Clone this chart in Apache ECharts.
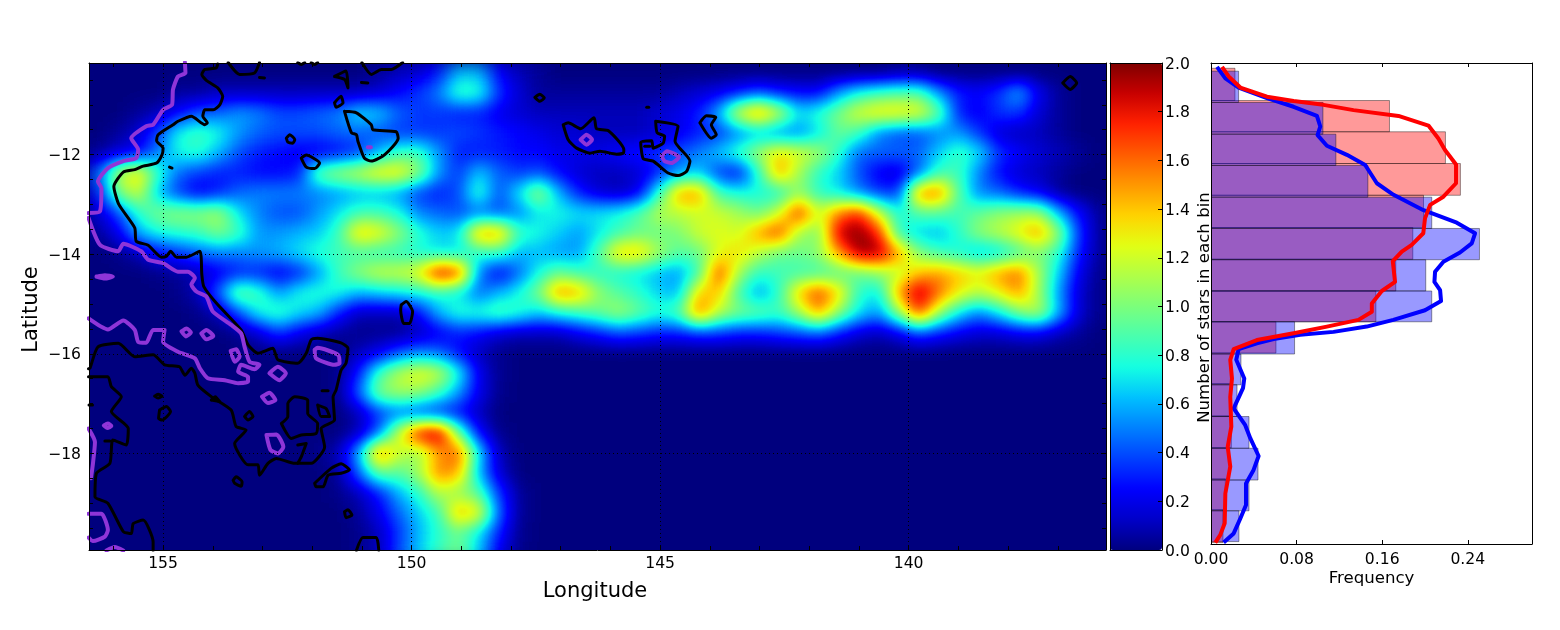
<!DOCTYPE html>
<html>
<head>
<meta charset="utf-8">
<title>Stars map</title>
<script src="https://cdn.jsdelivr.net/npm/echarts@6/dist/echarts.min.js"></script>
<style>
    html, body { margin: 0; padding: 0; background: #fff; }
    #page { position: relative; width: 1560px; height: 630px; overflow: hidden; }
    /* the heat cells sit in their own clipped layer, the filter smooths them and then colours them */
    #heatClip { position: absolute; left: 89px; top: 63px; width: 1017px; height: 487px; overflow: hidden; background: #00007f; }
    #heat { position: absolute; left: 0; top: 0; width: 1020px; height: 500px; filter: url(#jetBlur); }
    #main { position: absolute; left: 0; top: 0; width: 1560px; height: 630px; }
</style>
</head>
<body>
<svg width="0" height="0" style="position:absolute">
    <filter id="jetBlur" x="-5%" y="-5%" width="110%" height="110%" color-interpolation-filters="sRGB">
        <feGaussianBlur stdDeviation="9"></feGaussianBlur>
        <feComponentTransfer>
            <feFuncR id="jetR" type="table"></feFuncR>
            <feFuncG id="jetG" type="table"></feFuncG>
            <feFuncB id="jetB" type="table"></feFuncB>
        </feComponentTransfer>
    </filter>
</svg>
<div id="page">
    <div id="heatClip"><div id="heat"></div></div>
    <div id="main"></div>
</div>
<script>
// stars per bin: 25 rows (north to south), 51 columns (east edge of the plot is the right)
const heatValues = [
    [0,0,0,0,0,0,0,0,0,0, 0,0,0,0,.05,.1,.15,.3,.6,.6, .25,.1,.05,0,0,0,0,0,0,0, 0,0,0,0,0,0,0,0,0,0, .05,.05,0,0,0,0,0,0,0,0,0],
    [0,0,0,0,.05,.05,.1,.1,.1,.1, .1,.1,.1,.1,.15,.25,.35,.5,.85,.8, .35,.15,.05,.05,.05,.05,.05,.05,.05,.1, .15,.2,.3,.4,.3,.25,.25,.55,.75,.85, .9,.9,.55,.3,.25,.35,.6,.2,.05,0,0],
    [0,0,.05,.1,.25,.4,.45,.55,.5,.4, .4,.45,.5,.7,.65,.45,.35,.35,.3,.3, .2,.15,.1,.1,.1,.1,.1,.1,.15,.2, .3,.6,1.25,1.55,1.2,.7,.8,1,1.25,1.35, 1.35,1.3,.95,.3,.2,.35,.35,.15,.05,0,0],
    [0,.05,.15,.4,.75,.85,.75,.55,.45,.4, .4,.4,.45,.45,.4,.35,.35,.35,.4,.35, .3,.25,.2,.15,.15,.1,.1,.1,.15,.2, .3,.35,.5,.6,.5,.5,.7,.95,.85,.5, .4,.4,.5,.55,.35,.15,.1,.1,.05,0,0],
    [.05,.15,.25,.5,.75,.8,.6,.4,.3,.25, .2,.2,.25,.35,.6,.85,.85,.55,.3,.3, .3,.25,.25,.2,.2,.2,.25,.3,.35,.4, .5,.65,.85,1.1,1.35,1.25,1.1,.8,.45,.45, .45,.45,.65,.85,.7,.35,.25,.15,.1,.05,0],
    [.45,1.15,1.35,.8,.45,.35,.3,.3,.25,.25, .3,.95,1.1,1.2,1.35,1.35,1.05,.55,.35,.65, .45,.35,.4,.25,.15,.1,.1,.15,.3,.55, .65,.35,.25,.8,1.5,1.1,.8,.65,.4,.2, .15,.45,.85,.85,.5,.25,.15,.1,.05,0,0],
    [.3,1,1.2,.6,.35,.2,.3,.45,.5,.5, .5,.5,.55,.6,.6,.55,.35,.3,.4,.85, .4,.7,1.1,.6,.3,.15,.1,.2,.8,1.5, 1.5,.85,.75,.75,.75,1.05,.8,.7,.5,.35, .35,1.55,1.6,.9,.5,.45,.3,.2,.05,0,0],
    [.15,.4,.8,1,1.05,1.05,1.1,.7,.5,.4, .4,.55,.7,.85,.85,.75,.5,.45,.4,.45, .4,.5,.7,.75,.7,.7,.75,.9,1.15,1.15, 1.2,1.2,1.1,.95,1.2,1.75,1.2,1.55,1.75,1.2, .75,.9,.9,.85,.95,1.05,1.1,1.1,.6,.25,.05],
    [.05,.2,.6,.75,.8,.85,1,.85,.55,.55, .6,.65,.85,1.4,1.3,1.05,.8,.65,.7,1.5, 1.5,.85,.75,.65,.55,.7,.85,.95,.95,1, 1.2,1.25,1.2,1.5,1.7,1.1,1,1.9,2,1.75, .8,.65,.6,.8,1.05,1.15,1.3,1.5,1.05,.35,.05],
    [0,.02,.1,.25,.35,.45,.5,.5,.55,.6, .7,.8,.85,.85,.8,.8,.75,.7,.7,.8, .85,.6,.6,.55,.55,.9,1.4,1.4,1.1,.9, .95,1.25,1.35,1.15,.95,.95,1.05,1.5,1.95,1.95, 1.5,1,.85,.75,.6,.65,.85,1,.8,.3,.05],
    [0,0,0,.02,.05,.1,.2,.3,.3,.2, .3,.55,.85,1.05,1.2,1.2,1.3,1.85,1.7,.5, .2,.45,.75,.95,.85,.8,.75,.7,.6,.55, .85,1.7,1.1,.8,.85,.85,.85,.9,.95,1.05, 1.15,1.4,1.5,1.4,1.3,1.5,1.6,1.1,.65,.2,.02],
    [0,0,0,0,.02,.1,.45,1,.85,.55, .75,.8,.75,.6,.65,.7,.75,.8,.7,.45, .6,.75,1,1.55,1.45,1.05,.9,.8,.65,.6, 1.4,1.4,.85,.55,.8,1.4,1.7,1.35,.8,.7, 1.5,1.95,1.6,1.3,1.15,1.3,1.5,1.1,.55,.15,.02],
    [0,0,0,0,0,.02,.1,.4,.75,.85, .7,.6,.3,.1,.1,.1,.25,.6,.8,.8, .9,.8,.65,.75,.85,.95,1.1,.95,.8,.9, 1.6,1.15,1,.95,.85,1.1,1.5,1.05,.7,.55, 1.05,1.7,1.1,.7,.5,.7,1,1.15,.6,.15,.02],
    [0,0,0,0,0,0,0,.03,.15,.35, .2,.1,.05,.02,.02,.02,.1,.2,.3,.25, .15,.1,.1,.1,.2,.3,.4,.35,.3,.3, .35,.35,.3,.3,.35,.4,.45,.3,.15,.1, .2,.4,.3,.2,.15,.15,.2,.2,.1,.05,0],
    [0,0,0,0,0,0,0,0,0,0, 0,0,0,.1,.2,.4,.5,.45,.25,.1, .02,0,0,0,0,0,0,0,0,0, 0,0,0,0,0,0,0,0,0,0, 0,0,0,0,0,0,0,0,0,0,0],
    [0,0,0,0,0,0,0,0,0,0, 0,0,.02,.3,.85,1.15,1.3,1.2,.75,.2, .03,0,0,0,0,0,0,0,0,0, 0,0,0,0,0,0,0,0,0,0, 0,0,0,0,0,0,0,0,0,0,0],
    [0,0,0,0,0,0,0,0,0,0, 0,0,.02,.45,1,1.1,1.05,.85,.55,.2, .02,0,0,0,0,0,0,0,0,0, 0,0,0,0,0,0,0,0,0,0, 0,0,0,0,0,0,0,0,0,0,0],
    [0,0,0,0,0,0,0,0,0,0, 0,0,0,.1,.35,.45,.35,.3,.25,.1, 0,0,0,0,0,0,0,0,0,0, 0,0,0,0,0,0,0,0,0,0, 0,0,0,0,0,0,0,0,0,0,0],
    [0,0,0,0,0,0,0,0,0,0, 0,0,0,.1,.45,1.2,1.85,1.95,.95,.25, .02,0,0,0,0,0,0,0,0,0, 0,0,0,0,0,0,0,0,0,0, 0,0,0,0,0,0,0,0,0,0,0],
    [0,0,0,0,0,0,0,0,0,0, 0,.02,.1,.6,1.6,1.2,1.05,1.5,1.65,.7, .1,0,0,0,0,0,0,0,0,0, 0,0,0,0,0,0,0,0,0,0, 0,0,0,0,0,0,0,0,0,0,0],
    [0,0,0,0,0,0,0,0,0,0, 0,0,.05,.45,.95,.9,1.1,1.55,1.45,.6, .15,0,0,0,0,0,0,0,0,0, 0,0,0,0,0,0,0,0,0,0, 0,0,0,0,0,0,0,0,0,0,0],
    [0,0,0,0,0,0,0,0,0,0, 0,0,.02,.1,.3,.6,.8,1.15,1.05,.9, .35,.05,0,0,0,0,0,0,0,0, 0,0,0,0,0,0,0,0,0,0, 0,0,0,0,0,0,0,0,0,0,0],
    [0,0,0,0,0,0,0,0,0,0, 0,0,0,.05,.2,.45,.65,.85,1.45,1.3, .45,.05,0,0,0,0,0,0,0,0, 0,0,0,0,0,0,0,0,0,0, 0,0,0,0,0,0,0,0,0,0,0],
    [0,0,0,0,0,0,0,0,0,0, 0,0,0,.02,.1,.35,.6,.8,.95,.7, .3,.03,0,0,0,0,0,0,0,0, 0,0,0,0,0,0,0,0,0,0, 0,0,0,0,0,0,0,0,0,0,0],
    [0,0,0,0,0,0,0,0,0,0, 0,0,0,.02,.1,.4,.65,.85,1,.65, .2,.02,0,0,0,0,0,0,0,0, 0,0,0,0,0,0,0,0,0,0, 0,0,0,0,0,0,0,0,0,0,0]
];

// contours, [longitude, latitude]
const blackOpen = [
    [[153.9,-10.18],[153.93,-10.26],[154.16,-10.29],[154.22,-10.39],[154.13,-10.51],[153.9,-10.66],[153.8,-10.83],[153.86,-11],[153.99,-11.1],[154.16,-11.1],[154.2,-11.23],[154.11,-11.36],[154.16,-11.4],[154.43,-11.23],[154.7,-11.33],[154.8,-11.4],[155.1,-11.6],[155.13,-11.72],[155,-11.87],[155.02,-12],[155.13,-12.17],[155.4,-12.23],[155.57,-12.3],[155.8,-12.35],[155.99,-12.64],[155.89,-13],[155.57,-13.47],[155.54,-13.74],[155.3,-13.82],[155.03,-14.06],[154.93,-14.04],[154.85,-13.94],[154.73,-14.06],[154.53,-14.06],[154.26,-13.94],[154.22,-14.41],[154.18,-14.65],[153.93,-14.98],[153.43,-15.52],[153.29,-15.82],[153.09,-15.99],[152.79,-15.89],[152.69,-16.12],[152.29,-16.19],[152.12,-15.99],[152.02,-15.72],[151.89,-15.69],[151.42,-15.78],[151.28,-15.89],[151.32,-16.19],[151.42,-16.33],[151.52,-16.73],[151.58,-16.86],[151.55,-17.33],[151.82,-17.5],[151.75,-17.87],[152.02,-18.2],[152.35,-18.2],[152.72,-18.1],[152.89,-18.2],[153.06,-18.44],[153.09,-18.23],[153.29,-18.23],[153.56,-17.8],[153.33,-17.53],[153.53,-17.46],[153.63,-17.13],[154.03,-16.86],[154.3,-16.63],[154.36,-16.39],[154.43,-16.29],[154.56,-16.43],[154.67,-16.26],[154.97,-16.22],[155.2,-16.02],[155.57,-16.06],[155.9,-15.79],[156.31,-15.86],[156.47,-16.29],[156.5,-16.3]],
    [[156.5,-16.46],[156.11,-16.46],[156.04,-16.66],[155.84,-16.86],[156.04,-17.16],[155.7,-17.5],[155.74,-17.83],[156.01,-17.73],[156.07,-18.2],[156.34,-18.4],[156.37,-18.87],[156.11,-19],[155.8,-19.57],[155.64,-19.61],[155.6,-19.41],[155.4,-19.34],[155.2,-19.78],[155.2,-19.95]],
    [[152.29,-17.83],[152.12,-17.8],[152.22,-18.07],[152.29,-18.2]],
    [[153.69,-10.15],[153.46,-10.39],[153.16,-10.36],[153.06,-10.15]],
    [[152.29,-10.15],[152.22,-10.19],[152.15,-10.15]],
    [[152.02,-10.15],[151.95,-10.19],[151.89,-10.15]],
    [[151,-10.15],[150.81,-10.39],[150.61,-10.29],[150.41,-10.29],[150.18,-10.15]],
    [[151.11,-19.95],[150.98,-19.69],[150.71,-19.69],[150.66,-19.95]],
    [[153.06,-10.45],[152.96,-10.46]],
    [[151.01,-10.55],[150.88,-10.56]],
    [[154.87,-12.25],[154.82,-12.27]],
    [[151.8,-16.74],[151.68,-16.74]],
    [[156.17,-17.75],[156.07,-17.75]],
    [[156.49,-17.03],[156.42,-17.03]],
    [[145.27,-11.05],[145.23,-11.05]],
    [[145.31,-11.83],[145.21,-11.83]]
];
const blackLoops = [
    [[152.62,-17.4],[152.49,-17.26],[152.49,-17],[152.35,-16.86],[152.09,-16.93],[152.09,-17.2],[151.89,-17.4],[151.92,-17.6],[152.22,-17.63],[152.42,-17.7]],
    [[151.89,-17.03],[151.72,-17.1],[151.65,-17.26],[151.82,-17.26]],
    [[153.36,-17.26],[153.26,-17.16],[153.19,-17.26],[153.29,-17.33]],
    [[154.03,-16.93],[153.95,-16.86],[153.86,-16.96]],
    [[155.07,-17.13],[154.93,-17.06],[154.85,-17.16],[155.02,-17.33],[155.09,-17.3]],
    [[155.17,-16.85],[155.1,-16.81],[155.02,-16.85],[155.1,-16.89]],
    [[153.59,-18.54],[153.53,-18.47],[153.41,-18.57],[153.43,-18.66],[153.56,-18.6]],
    [[151.95,-18.6],[151.92,-18.67],[151.78,-18.67],[151.68,-18.44],[151.42,-18.4],[151.25,-18.33],[151.42,-18.21],[151.62,-18.3]],
    [[151.35,-19.17],[151.28,-19.13],[151.2,-19.24],[151.32,-19.29]],
    [[150.21,-15.02],[150.11,-14.95],[149.98,-15.15],[150.04,-15.39],[150.16,-15.39],[150.22,-15.12]],
    [[151.55,-10.43],[151.32,-10.32],[151.28,-10.66],[151.35,-10.49]],
    [[151.55,-10.96],[151.42,-10.83],[151.38,-10.96],[151.52,-11.05]],
    [[151.35,-11.13],[151.11,-11.16],[150.81,-11.4],[150.78,-11.5],[150.31,-11.54],[150.27,-11.67],[150.54,-12],[150.81,-12.13],[150.95,-12.07],[151.08,-11.73],[151.11,-11.6],[151.21,-11.56]],
    [[152.52,-11.67],[152.45,-11.6],[152.35,-11.7],[152.39,-11.77],[152.49,-11.75]],
    [[152.22,-12.07],[152.12,-12.01],[151.85,-12.17],[151.95,-12.28],[152.12,-12.25]],
    [[147.52,-10.85],[147.42,-10.79],[147.33,-10.86],[147.42,-10.93]],
    [[146.95,-11.4],[146.85,-11.36],[146.6,-11.48],[146.33,-11.26],[146.28,-11.48],[146.04,-11.52],[145.73,-11.9],[145.74,-11.97],[145.88,-11.99],[146.21,-11.93],[146.41,-11.97],[146.68,-11.87],[146.85,-11.7]],
    [[145.09,-11.33],[144.64,-11.43],[144.7,-11.73],[144.4,-12.13],[144.47,-12.34],[144.64,-12.42],[144.84,-12.37],[145.14,-12.13],[145.34,-12.08],[145.39,-11.75],[145.17,-11.72],[145.14,-11.87],[144.94,-11.77],[144.91,-11.63],[145.06,-11.56]],
    [[144.2,-11.36],[144.07,-11.22],[143.88,-11.25],[143.97,-11.4],[143.87,-11.6],[143.97,-11.67]],
    [[136.9,-10.56],[136.75,-10.43],[136.62,-10.56],[136.75,-10.69]]
];
const purpleOpen = [
    [[154.56,-10.15],[154.55,-10.36],[154.7,-10.43],[154.8,-10.69],[154.82,-11],[155,-11.1],[155.2,-11.4],[155.34,-11.43],[155.64,-11.67],[155.5,-11.9],[155.54,-12.07],[155.8,-12.13],[156.11,-12.27],[156.31,-12.54],[156.24,-12.67],[156.27,-13.14],[156.5,-13.17]],
    [[156.5,-13.27],[156.27,-13.81],[155.9,-13.94],[155.8,-13.79],[155.44,-13.94],[155.3,-14.11],[155,-14.18],[154.7,-14.35],[154.5,-14.35],[154.36,-14.48],[154.43,-14.61],[154.33,-14.75],[154.13,-14.85],[154,-15.15],[153.63,-15.42],[153.43,-15.59],[153.36,-15.86],[153.26,-16.16],[153.06,-16.22],[153.16,-16.31],[153.43,-16.22],[153.49,-16.36],[153.29,-16.46],[153.29,-16.56],[153.49,-16.59],[153.76,-16.53],[154.1,-16.49],[154.26,-16.29],[154.36,-16.09],[154.7,-15.96],[155,-15.76],[154.97,-15.52],[155.2,-15.52],[155.34,-15.78],[155.5,-15.76],[155.57,-15.52],[155.8,-15.33],[156.11,-15.51],[156.5,-15.29]],
    [[156.5,-17.5],[156.37,-17.77],[156.41,-18.2],[156.45,-18.5]],
    [[156.5,-19.21],[156.24,-19.21],[156.11,-19.54],[156.17,-19.67],[156.41,-19.76],[156.5,-19.69]],
    [[156.14,-19.95],[155.97,-19.88],[155.8,-19.95]],
    [[150.88,-11.85],[150.82,-11.85]]
];
const purpleLoops = [
    [[156.34,-14.45],[156.17,-14.42],[156.01,-14.45],[156.17,-14.49]],
    [[154.63,-15.55],[154.53,-15.49],[154.44,-15.57],[154.54,-15.65]],
    [[154.23,-15.59],[154.13,-15.52],[153.99,-15.64],[154.13,-15.71]],
    [[153.64,-15.94],[153.53,-15.91],[153.46,-16.06],[153.56,-16.16]],
    [[151.95,-15.92],[151.89,-15.88],[151.48,-16.02],[151.45,-16.19],[151.55,-16.22],[151.92,-16.09]],
    [[152.86,-16.39],[152.69,-16.26],[152.53,-16.39],[152.66,-16.53]],
    [[153.01,-16.86],[152.86,-16.78],[152.74,-16.93],[152.89,-16.99]],
    [[156.19,-17.44],[156.11,-17.4],[156.04,-17.45],[156.12,-17.49]],
    [[152.92,-17.63],[152.72,-17.62],[152.58,-17.87],[152.69,-18],[152.84,-17.93]],
    [[146.6,-11.7],[146.48,-11.6],[146.37,-11.7],[146.48,-11.8]],
    [[144.97,-12.03],[144.86,-11.93],[144.62,-12.05],[144.77,-12.17],[144.91,-12.13]]
];

// ticks and labels
const lonTicks = [156,155,154,153,152,151,150,149,148,147,146,145,144,143,142,141,140,139,138,137];
const lonLabels = [155,150,145,140];
const latTicks = [-10.5,-11,-11.5,-12,-12.5,-13,-13.5,-14,-14.5,-15,-15.5,-16,-16.5,-17,-17.5,-18,-18.5,-19,-19.5];
const latLabels = [-12,-14,-16,-18];
const freqTicks = [0,0.08,0.16,0.24];

// histograms: bin edges in latitude, north to south, and bar lengths
const blueEdges = [-10.17,-10.82,-11.48,-12.13,-12.79,-13.44,-14.09,-14.74,-15.38,-16.05,-16.69,-17.35,-18.01,-18.67,-19.31,-19.95];
const blueFreq = [.0258,.1046,.1167,.1466,.2063,.2509,.2007,.2063,.0781,.028,.0243,.0355,.0439,.0355,.0261];
const redEdges = [-10.11,-10.78,-11.43,-12.09,-12.75,-13.42,-14.08,-14.74,-15.38,-16.03,-16.67,-17.34,-18,-18.65,-19.29,-19.97];
const redFreq = [.0224,.1668,.2191,.2331,.1986,.1886,.1727,.1541,.0607,.0187,.018,.019,.0174,.0134,.0112];

// density curves, [frequency, latitude]
const blueCurve = [[.0056,-10.08],[.0134,-10.32],[.0258,-10.51],[.0523,-10.73],[.0772,-10.91],[.099,-11.1],[.1021,-11.32],[.0996,-11.5],[.1083,-11.72],[.127,-11.91],[.1441,-12.12],[.155,-12.5],[.1706,-12.74],[.1986,-13.06],[.2297,-13.32],[.2468,-13.54],[.2437,-13.75],[.2327,-13.94],[.2172,-14.13],[.2094,-14.34],[.2088,-14.55],[.2141,-14.72],[.215,-14.95],[.2,-15.14],[.1704,-15.34],[.1455,-15.48],[.1145,-15.59],[.0834,-15.65],[.0585,-15.74],[.0429,-15.83],[.0258,-15.95],[.0236,-16.17],[.0311,-16.56],[.0299,-16.76],[.0212,-17.18],[.032,-17.53],[.0367,-17.8],[.0445,-18.17],[.0398,-18.46],[.0327,-18.74],[.0327,-19.19],[.0274,-19.47],[.0212,-19.78],[.0118,-19.97]];
const redCurve = [[.0103,-10.08],[.0165,-10.28],[.0274,-10.51],[.0523,-10.7],[.0772,-10.79],[.1051,-10.87],[.1332,-10.98],[.1752,-11.1],[.2032,-11.3],[.2125,-11.57],[.2187,-11.81],[.229,-12.11],[.229,-12.5],[.2172,-12.78],[.2048,-12.95],[.2,-13.23],[.1984,-13.54],[.1876,-13.78],[.1783,-13.92],[.1699,-14.12],[.172,-14.55],[.1596,-14.74],[.1503,-15],[.1503,-15.17],[.1378,-15.34],[.1083,-15.48],[.0772,-15.62],[.0429,-15.76],[.0212,-15.95],[.018,-16.17],[.0196,-16.56],[.018,-16.94],[.019,-17.56],[.0156,-17.98],[.018,-18.39],[.0134,-18.95],[.0128,-19.57],[.0087,-19.81],[.004,-19.97]];

const jetColors = ['#00007f','#0000c8','#0000ff','#0040ff','#0080ff','#00c0ff','#14ffe2','#48ffaf','#7bff7b','#afff48','#e2ff14','#ffd200','#ff9700','#ff5c00','#ff2100','#c80000','#7f0000'];

const FONT = 'DejaVu Sans';
const TICK_SIZE = 15.6;

// the svg filter maps the smoothed grey values back through the same colour table
[['jetR', 1], ['jetG', 3], ['jetB', 5]].forEach(([id, at]) => {
    const table = jetColors.map(c => (parseInt(c.substr(at, 2), 16) / 255).toFixed(3)).join(' ');
    document.getElementById(id).setAttribute('tableValues', table);
});

// heat layer, drawn grey, coloured by the filter
const heatChart = echarts.init(document.getElementById('heat'));
const heatCells = [];
heatValues.forEach((row, r) => row.forEach((v, c) => heatCells.push([c, r, v])));
heatChart.setOption({
    animation: false,
    grid: { left: 0, right: 0, top: 0, bottom: 0 },
    xAxis: { type: 'category', show: false, data: heatValues[0].map((v, i) => i) },
    yAxis: { type: 'category', show: false, inverse: true, data: heatValues.map((v, i) => i) },
    visualMap: { show: false, min: 0, max: 2, inRange: { color: ['#000000', '#ffffff'] } },
    series: [{ type: 'heatmap', data: heatCells, progressive: 0 }]
});

// axis frame helper, every plot has a spine on all four sides
function frameAxis(extra) {
    return Object.assign({
        type: 'value',
        axisLine: { show: true, onZero: false, lineStyle: { color: '#000', width: 1 } },
        axisTick: { show: false },
        axisLabel: { show: false },
        splitLine: { show: false },
        nameMoveOverlap: false,
        z: 10
    }, extra);
}
function ticksIn(values) {
    return { show: true, inside: true, length: 4, customValues: values, lineStyle: { color: '#000', width: 1 } };
}
function labelsOut(values, margin, formatter, extra) {
    return Object.assign({ show: true, customValues: values, margin: margin, fontFamily: FONT, fontSize: TICK_SIZE, color: '#000', formatter: formatter, showMinLabel: true, showMaxLabel: true }, extra);
}

const LON_MIN = 136.03, LON_MAX = 156.49, LAT_MIN = -19.94, LAT_MAX = -10.16;

function contourSeries(paths, closed, color, width) {
    return paths.map(p => ({
        type: 'line',
        xAxisIndex: 0,
        yAxisIndex: 0,
        data: closed ? p.concat([p[0]]) : p,
        showSymbol: false,
        symbol: 'none',
        smooth: 0.2,
        silent: true,
        clip: true,
        lineStyle: { color: color, width: width, join: 'round', cap: 'round' },
        z: 3
    }));
}

function histSeries(edges, freq, fill) {
    return {
        type: 'custom',
        xAxisIndex: 4,
        yAxisIndex: 4,
        silent: true,
        clip: true,
        encode: { x: 2, y: [0, 1] },
        data: freq.map((f, i) => [edges[i], edges[i + 1], f]),
        renderItem: (params, api) => {
            const a = api.coord([0, api.value(0)]);
            const b = api.coord([api.value(2), api.value(1)]);
            return {
                type: 'rect',
                shape: { x: a[0], y: a[1], width: b[0] - a[0], height: b[1] - a[1] },
                style: { fill: fill, stroke: 'rgba(0,0,0,0.4)', lineWidth: 1 }
            };
        }
    };
}

function curveSeries(points, color) {
    return {
        type: 'line',
        xAxisIndex: 4,
        yAxisIndex: 4,
        data: points,
        showSymbol: false,
        symbol: 'none',
        silent: true,
        lineStyle: { color: color, width: 4, join: 'round' },
        z: 5
    };
}

const chart = echarts.init(document.getElementById('main'));

const gridSeries = contourSeries(blackOpen, false, '#000', 3)
    .concat(contourSeries(blackLoops, true, '#000', 3))
    .concat(contourSeries(purpleOpen, false, '#8f35d8', 4))
    .concat(contourSeries(purpleLoops, true, '#8f35d8', 4));

// dotted grid at the labelled ticks only
gridSeries[0].markLine = {
    silent: true,
    symbol: ['none', 'none'],
    label: { show: false },
    animation: false,
    lineStyle: { color: '#000', width: 1, type: [1, 3], opacity: 1 },
    data: lonLabels.map(v => ({ xAxis: v })).concat(latLabels.map(v => ({ yAxis: v })))
};

chart.setOption({
    animation: false,
    backgroundColor: 'transparent',
    textStyle: { fontFamily: FONT },
    grid: [
        { left: 89, top: 63, width: 1017, height: 487 },
        { left: 1110, top: 63, width: 52, height: 487 },
        { left: 1211, top: 63, width: 321, height: 481 }
    ],
    // colour bar only, it drives no series here
    visualMap: {
        type: 'continuous',
        seriesIndex: [],
        min: 0,
        max: 2,
        left: 1110,
        top: 63,
        padding: 0,
        itemWidth: 52,
        itemHeight: 487,
        calculable: false,
        realtime: false,
        hoverLink: false,
        inRange: { color: jetColors }
    },
    xAxis: [
        frameAxis({
            gridIndex: 0, position: 'bottom', min: LON_MIN, max: LON_MAX, inverse: true,
            axisTick: ticksIn(lonTicks),
            axisLabel: labelsOut(lonLabels, 6, v => String(v)),
            name: 'Longitude', nameLocation: 'middle', nameGap: 31,
            nameTextStyle: { fontFamily: FONT, fontSize: 21, color: '#000', padding: [0, 5, 0, 0] }
        }),
        frameAxis({ gridIndex: 0, position: 'top', min: LON_MIN, max: LON_MAX, inverse: true, axisTick: ticksIn(lonTicks) }),
        frameAxis({ gridIndex: 1, position: 'bottom', min: 0, max: 1 }),
        frameAxis({ gridIndex: 1, position: 'top', min: 0, max: 1 }),
        frameAxis({
            gridIndex: 2, position: 'bottom', min: 0, max: 0.3,
            axisTick: ticksIn(freqTicks),
            axisLabel: labelsOut(freqTicks, 8, v => v.toFixed(2)),
            name: 'Frequency', nameLocation: 'middle', nameGap: 26,
            nameTextStyle: { fontFamily: FONT, fontSize: 16.6, color: '#000' }
        }),
        frameAxis({ gridIndex: 2, position: 'top', min: 0, max: 0.3, axisTick: ticksIn(freqTicks) })
    ],
    yAxis: [
        frameAxis({
            gridIndex: 0, position: 'left', min: LAT_MIN, max: LAT_MAX,
            axisTick: ticksIn(latTicks),
            axisLabel: labelsOut(latLabels, 8, v => '\u2212' + Math.abs(v), { verticalAlign: 'top', lineHeight: 3 }),
            name: 'Latitude', nameLocation: 'middle', nameGap: 47,
            nameTextStyle: { fontFamily: FONT, fontSize: 21, color: '#000', padding: [0, 6, 0, 0] }
        }),
        frameAxis({ gridIndex: 0, position: 'right', min: LAT_MIN, max: LAT_MAX, axisTick: ticksIn(latTicks) }),
        frameAxis({ gridIndex: 1, position: 'left', min: 0, max: 2 }),
        frameAxis({
            gridIndex: 1, position: 'right', min: 0, max: 2, interval: 0.2,
            axisTick: { show: true, inside: true, length: 4, lineStyle: { color: '#000' } },
            axisLabel: { show: true, margin: 3, verticalAlign: 'top', lineHeight: 3, fontFamily: FONT, fontSize: TICK_SIZE, color: '#000', formatter: v => v.toFixed(1) }
        }),
        frameAxis({
            gridIndex: 2, position: 'left', min: -20, max: -10,
            name: 'Number of stars in each bin', nameLocation: 'middle', nameGap: -2,
            nameTextStyle: { fontFamily: FONT, fontSize: 16.6, color: '#000', padding: [0, 8, 0, 0] }
        }),
        frameAxis({ gridIndex: 2, position: 'right', min: -20, max: -10 })
    ],
    series: gridSeries.concat([
        histSeries(redEdges, redFreq, 'rgba(255,0,0,0.4)'),
        histSeries(blueEdges, blueFreq, 'rgba(0,0,255,0.4)'),
        curveSeries(blueCurve, '#0000ff'),
        curveSeries(redCurve, '#ff0000')
    ])
});

window.addEventListener('resize', () => {
    heatChart.resize();
    chart.resize();
});
</script>
</body>
</html>
